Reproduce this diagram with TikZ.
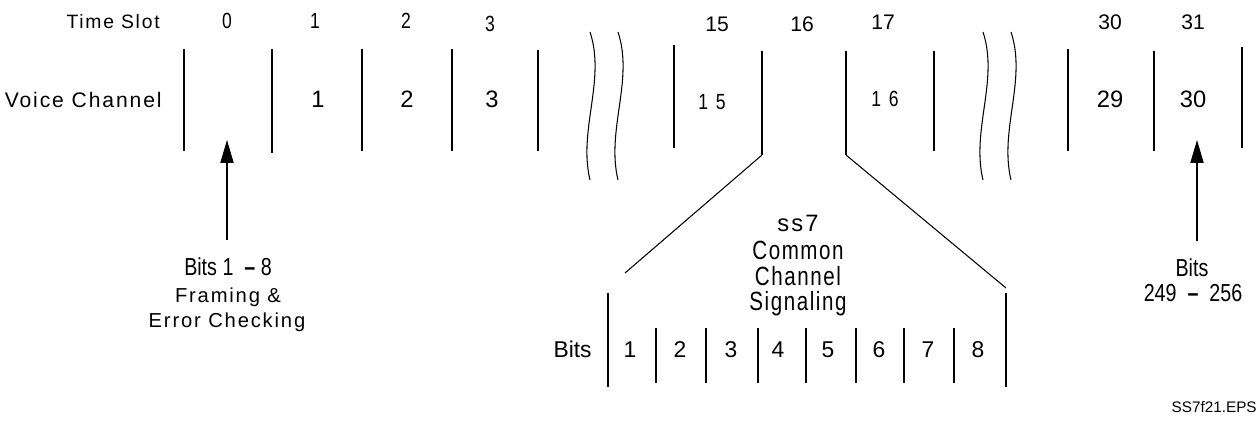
\documentclass[tikz,border=0pt]{standalone}
\usepackage{fontspec}
\setmainfont{Liberation Sans}
\newfontfamily\trackfont[LetterSpace=9]{Liberation Sans}
\newfontfamily\condfont[FakeStretch=0.8]{Liberation Sans}
\newfontfamily\condtrack[FakeStretch=0.78,LetterSpace=6]{Liberation Sans}
\newfontfamily\condwide[FakeStretch=0.8,LetterSpace=35]{Liberation Sans}
\usetikzlibrary{arrows.meta,positioning}
\tikzset{
  >={Triangle[length=13pt,width=7.5pt]},
  hdr/.style={font=\fontsize{11}{13}\trackfont,inner sep=0pt,anchor=base east},
  slotnum/.style={font=\fontsize{12}{14}\selectfont,inner sep=0pt,anchor=base},
  slotthin/.style={font=\fontsize{12.5}{14}\condfont,inner sep=0pt,anchor=base},
  chnum/.style={font=\fontsize{13.5}{15}\selectfont,inner sep=0pt,anchor=base},
  chthin/.style={font=\fontsize{12.5}{14}\condwide,inner sep=0pt,anchor=base},
  bitnum/.style={font=\fontsize{13}{15}\selectfont,inner sep=0pt,anchor=base},
  note/.style={font=\fontsize{11.5}{13}\trackfont,inner sep=0pt,anchor=base},
  notecond/.style={font=\fontsize{14}{16}\condfont,inner sep=0pt,anchor=base},
  ccslbl/.style={font=\fontsize{15}{17}\condtrack,inner sep=0pt,anchor=base},
  bar/.style={line width=1.1pt},
  thickbar/.style={line width=1.7pt},
  bitbar/.style={line width=0.8pt},
  brk/.style={line width=0.6pt},
  fan/.style={line width=0.6pt},
  ptr/.style={->,line width=0.6pt,shorten <=10pt},
}
\begin{document}
\begin{tikzpicture}[x=0.02cm,y=-0.02cm]
  \useasboundingbox (0,0) rectangle (1258,425);
  % row labels
  \node[hdr] (tslbl) at (160,29) {Time Slot};
  \node[hdr,font=\fontsize{12}{14}\trackfont] (vclbl) at (162,108) {Voice Channel};
  % time slot numbers
  \node[slotthin] (ts0) at (227,29) {0};
  \node[slotthin] (ts1) at (315,29) {1};
  \node[slotthin] (ts2) at (406,29) {2};
  \node[slotthin] (ts3) at (490,32) {3};
  \node[slotnum] (ts15) at (717,32) {15};
  \node[slotnum] (ts16) at (802,32) {16};
  \node[slotnum] (ts17) at (883,30) {17};
  \node[slotnum] (ts30) at (1110,30) {30};
  \node[slotnum] (ts31) at (1193,30) {31};
  % voice channel numbers
  \node[chnum] (vc1) at (318,108) {1};
  \node[chnum] (vc2) at (407,108) {2};
  \node[chnum] (vc3) at (492,108) {3};
  \node[chthin] (vc15) at (712,110) {15};
  \node[chthin] (vc16) at (885,107) {16};
  \node[chnum] (vc29) at (1110,108) {29};
  \node[chnum] (vc30) at (1193,108) {30};
  % slot boundaries
  \foreach \x/\t/\b/\s in {184/49/151/bar,272/49/153/thickbar,362/49/151/thickbar,
      452/49/151/thickbar,538/50/151/thickbar,674/45/148/bar,762/51/155/bar,
      846/51/155/bar,934/51/151/bar,1068/49/151/bar,1154/51/151/bar,1242/47/148/bar}
    \draw[\s] (\x,\t) -- (\x,\b);
  % breaks
  \foreach \wx in {590,618,983,1011}
    \draw[brk] (\wx,32) .. controls (\wx+16,80) and (\wx-12,130) .. (\wx,180);
  % expansion of slot 16
  \coordinate (s16l) at (762,155);
  \coordinate (s16r) at (846,155);
  \coordinate (fanl) at (625,273);
  \coordinate (fanr) at (1006,288);
  \draw[fan] (s16l) -- (fanl);
  \draw[fan] (s16r) -- (fanr);
  \node[note,font=\fontsize{13.5}{15}\trackfont] (ss7) at (798,232) {ss7};
  \node[ccslbl] (ccs1) at (798,260) {Common};
  \node[ccslbl] (ccs2) at (798,286) {Channel};
  \node[ccslbl] (ccs3) at (798,311) {Signaling};
  % bits of slot 16
  \node[bitnum,anchor=base east] (bitslbl) at (592,358) {Bits};
  \draw[bar] (608,293) -- (608,387);
  \draw[bar] (1006,293) -- (1006,387);
  \foreach \x in {656,706,758,806,856,904,954}
    \draw[bitbar] (\x,328) -- (\x,383);
  \foreach \x [count=\i] in {630,680,731,778,828,879,928,978}
    \node[bitnum] (bit\i) at (\x,358) {\i};
  % framing slot
  \coordinate (slot0) at (227,140);
  \node[notecond] (fr1) at (228,276) {Bits 1~~\textbf{–} 8};
  \node[note] (fr2) at (228,303) {Framing \&};
  \node[note] (fr3) at (227,328) {Error Checking};
  \draw[ptr] (fr1.north -| slot0) -- (slot0);
  % last slot
  \coordinate (slot31) at (1197,140);
  \node[notecond] (lb1) at (1192,277) {Bits};
  \node[notecond] (lb2) at (1193,302) {249~~\textbf{–}~~256};
  \draw[ptr] (lb1.north -| slot31) -- (slot31);
  \node[font=\fontsize{8.7}{10}\selectfont,inner sep=0pt,anchor=base east] (fname) at (1257,413) {SS7f21.EPS};
\end{tikzpicture}
\end{document}
